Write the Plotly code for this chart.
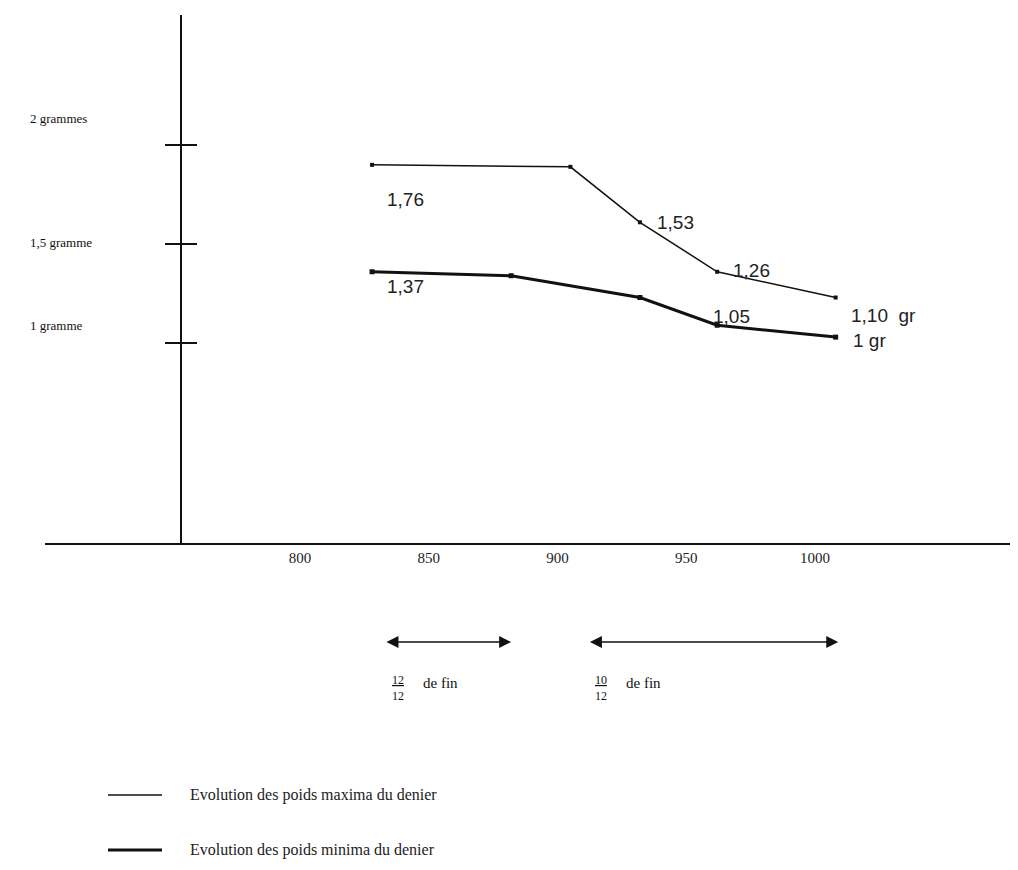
import plotly.graph_objects as go

# ---- data ----
years_max = [828, 905, 932, 962, 1008]
weights_max = [1.90, 1.89, 1.61, 1.36, 1.23]
labels_max = ["1,76", "", "1,53", "1,26", "1,10  gr"]

years_min = [828, 882, 932, 962, 1008]
weights_min = [1.36, 1.34, 1.23, 1.09, 1.03]
labels_min = ["1,37", "", "", "1,05", "1 gr"]

x_ticks = [800, 850, 900, 950, 1000]
x_ticktext = ["800", "850", "900", "950", "1000"]
y_ticks = [1, 1.5, 2]
y_ticktext = ["1 gramme", "1,5 gramme", "2 grammes"]

periods_start = [833, 912]
periods_end = [882, 1009]
periods_num = ["12", "10"]
periods_den = ["12", "12"]

legend_texts = ["Evolution des poids maxima du denier",
                "Evolution des poids minima du denier"]

# ---- layout geometry (pixels) ----
W, H = 1018, 870
OFF = 8  # page offset of the figure
L, R, T, B = 37, 16, 7, 335
PW, PH = W - L - R, H - T - B
XR = [701, 1075.7]
YR = [-0.01, 2.657]


def px_x(p):
    return (p - OFF - L) / PW


def px_y(p):
    return (H - B - (p - OFF)) / PH


serif = "Liberation Serif, Times New Roman, serif"
sans = "Liberation Sans, Arial, sans-serif"

fig = go.Figure()
fig.add_trace(go.Scatter(
    x=years_max, y=weights_max, mode="lines+markers",
    line=dict(color="#111", width=1.5),
    marker=dict(symbol="square", size=4, color="#111"),
    showlegend=False, hoverinfo="skip"))
fig.add_trace(go.Scatter(
    x=years_min, y=weights_min, mode="lines+markers",
    line=dict(color="#111", width=3),
    marker=dict(symbol="square", size=5, color="#111"),
    showlegend=False, hoverinfo="skip"))
fig.add_trace(go.Scatter(x=[None], y=[None], yaxis="y2", showlegend=False,
                         hoverinfo="skip"))

# data labels (pixel offsets from their points)
lab_off_max = [(13, -35), None, (15, 0), (14, 1), (13, -18)]
lab_off_min = [(13, -15), None, None, (-6, 9), (15, -3)]
ann = []
for xs, ys, labs, offs in [(years_max, weights_max, labels_max, lab_off_max),
                           (years_min, weights_min, labels_min, lab_off_min)]:
    for xv, yv, t, o in zip(xs, ys, labs, offs):
        if not t:
            continue
        ann.append(dict(x=xv, y=yv, text=t, showarrow=False, xanchor="left",
                        yanchor="middle", xshift=o[0], yshift=o[1],
                        font=dict(family=sans, size=19, color="#222")))

# y tick labels (offset above their ticks, as drawn)
y_shift = {1: 18, 1.5: 2, 2: 27}
for v, t in zip(y_ticks, y_ticktext):
    ann.append(dict(x=px_x(28), xref="paper", y=v, text=t, showarrow=False,
                    xanchor="left", yanchor="middle", yshift=y_shift[v],
                    font=dict(family=serif, size=13, color="#111")))

# period arrows and fractions
for s, e, n, d in zip(periods_start, periods_end, periods_num, periods_den):
    ann.append(dict(x=e, y=px_y(642), xref="x", yref="paper", ax=s, ay=0,
                    axref="x", ayref="pixel", text="", showarrow=True,
                    arrowside="end+start", arrowhead=2, arrowsize=1.6,
                    arrowwidth=1.5, arrowcolor="#111"))
    ann.append(dict(x=s + 5, y=px_y(688), xref="x", yref="paper",
                    text="<u>" + n + "</u><br>" + d, showarrow=False,
                    xanchor="center", yanchor="middle",
                    font=dict(family=serif, size=12, color="#111")))
    ann.append(dict(x=s + 14, y=px_y(683), xref="x", yref="paper",
                    text="de fin", showarrow=False, xanchor="left",
                    yanchor="middle",
                    font=dict(family=serif, size=15, color="#111")))

# legend (drawn manually)
shapes = []
for i, (t, w) in enumerate(zip(legend_texts, [1.5, 3])):
    yy = px_y(795 + i * 55)
    shapes.append(dict(type="line", xref="paper", yref="paper",
                       x0=px_x(108), x1=px_x(162), y0=yy, y1=yy,
                       line=dict(color="#111", width=w)))
    ann.append(dict(x=px_x(188), y=yy, xref="paper", yref="paper", text=t,
                    showarrow=False, xanchor="left", yanchor="middle",
                    font=dict(family=serif, size=16, color="#222")))

fig.update_layout(
    width=W, height=H,
    margin=dict(l=L, r=R, t=T, b=B),
    paper_bgcolor="white", plot_bgcolor="white",
    xaxis=dict(range=XR, showgrid=False, zeroline=False, showline=True,
               linecolor="#111", linewidth=2, ticks="",
               tickvals=x_ticks, ticktext=x_ticktext,
               tickfont=dict(family=serif, size=15, color="#222")),
    yaxis=dict(range=YR, showgrid=False, zeroline=False, showline=True,
               linecolor="#111", linewidth=1.5, anchor="free",
               position=px_x(181), ticks="outside", ticklen=15,
               tickwidth=1.5, tickcolor="#111", tickvals=y_ticks,
               showticklabels=False),
    yaxis2=dict(range=YR, overlaying="y", anchor="free",
                position=px_x(181), showgrid=False, zeroline=False,
                showline=False, ticks="inside", ticklen=15, tickwidth=1.5,
                tickcolor="#111", tickvals=y_ticks, showticklabels=False),
    annotations=ann, shapes=shapes,
)

fig.write_html("out.html")
